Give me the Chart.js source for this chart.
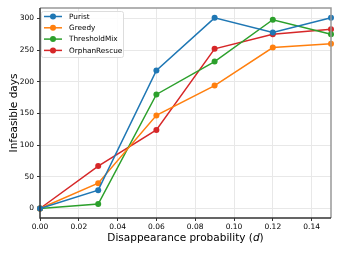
<!DOCTYPE html>
<html><head><meta charset="utf-8">
<script src="https://cdn.jsdelivr.net/npm/chart.js@4/dist/chart.umd.min.js"></script>
<style>html,body{margin:0;padding:0;background:#fff}#w{width:339px;height:254px}</style>
</head><body><div id="w"><canvas id="c" width="339" height="254"></canvas></div>
<script>
const xValues = [0.00, 0.03, 0.06, 0.09, 0.12, 0.15];
const purist = [0, 29, 218, 301, 278, 301];
const greedy = [0, 40, 147, 194, 254, 260];
const thresholdMix = [0, 7, 180, 232, 298, 275];
const orphanRescue = [0, 67, 124, 252, 275, 283];
const seriesNames = ['Purist', 'Greedy', 'ThresholdMix', 'OrphanRescue'];
const seriesColors = ['#1f77b4', '#ff7f0e', '#2ca02c', '#d62728'];
const xTicks = [0.00, 0.02, 0.04, 0.06, 0.08, 0.10, 0.12, 0.14];
const yTicks = [0, 50, 100, 150, 200, 250, 300];
const FONT = '"DejaVu Sans", sans-serif';

const allSeries = [purist, greedy, thresholdMix, orphanRescue];
const datasets = allSeries.map((s, i) => ({
  label: seriesNames[i],
  data: s.map((v, j) => ({x: xValues[j], y: v})),
  borderColor: seriesColors[i],
  backgroundColor: seriesColors[i],
  borderWidth: 1.5,
  pointRadius: 3,
  pointHoverRadius: 3,
  pointBorderWidth: 0,
  tension: 0,
  clip: false
}));

const extras = {
  id: 'extras',
  afterDraw(chart) {
    const ctx = chart.ctx;
    const a = chart.chartArea;
    ctx.save();
    // spines
    ctx.lineWidth = 1.5;
    ctx.strokeStyle = '#999';
    ctx.beginPath();
    ctx.moveTo(a.left, a.top); ctx.lineTo(a.right, a.top); ctx.lineTo(a.right, a.bottom);
    ctx.stroke();
    ctx.strokeStyle = '#333';
    ctx.beginPath();
    ctx.moveTo(a.left, a.top); ctx.lineTo(a.left, a.bottom); ctx.lineTo(a.right, a.bottom);
    ctx.stroke();
    // axis titles
    ctx.fillStyle = '#000';
    const FS = '10.5px ';
    ctx.textBaseline = 'middle';
    const t1 = 'Disappearance probability (';
    const t2 = 'd';
    const t3 = ')';
    ctx.font = FS + FONT;
    const w1 = ctx.measureText(t1).width, w3 = ctx.measureText(t3).width;
    ctx.font = 'italic ' + FS + FONT;
    const w2 = ctx.measureText(t2).width;
    let x0 = (a.left + a.right) / 2 - (w1 + w2 + w3) / 2;
    const ty = 238;
    ctx.textAlign = 'left';
    ctx.font = FS + FONT; ctx.fillText(t1, x0, ty);
    ctx.font = 'italic ' + FS + FONT; ctx.fillText(t2, x0 + w1, ty);
    ctx.font = FS + FONT; ctx.fillText(t3, x0 + w1 + w2, ty);
    ctx.save();
    ctx.translate(14, (a.top + a.bottom) / 2);
    ctx.rotate(-Math.PI / 2);
    ctx.textAlign = 'center';
    ctx.font = FS + FONT;
    ctx.fillText('Infeasible days', 0, 0);
    ctx.restore();
    // legend
    const lx = 41.5, ly = 11.5, lw = 82, lh = 46;
    ctx.fillStyle = 'rgba(255,255,255,0.85)';
    ctx.strokeStyle = '#ddd';
    ctx.lineWidth = 1;
    ctx.beginPath();
    if (ctx.roundRect) ctx.roundRect(lx, ly, lw, lh, 2); else ctx.rect(lx, ly, lw, lh);
    ctx.fill(); ctx.stroke();
    chart.data.datasets.forEach((ds, i) => {
      const yy = 16.5 + i * 11.3;
      ctx.strokeStyle = ds.borderColor;
      ctx.lineWidth = 1.5;
      ctx.beginPath(); ctx.moveTo(44, yy); ctx.lineTo(62, yy); ctx.stroke();
      ctx.fillStyle = ds.borderColor;
      ctx.beginPath(); ctx.arc(53, yy, 3, 0, Math.PI * 2); ctx.fill();
      ctx.fillStyle = '#000';
      ctx.font = '7.3px ' + FONT;
      ctx.textAlign = 'left';
      ctx.textBaseline = 'middle';
      ctx.fillText(ds.label, 69, yy + 0.5);
    });
    ctx.restore();
  }
};

new Chart(document.getElementById('c'), {
  type: 'line',
  data: { datasets },
  options: {
    responsive: false,
    animation: false,
    devicePixelRatio: 1,
    layout: { padding: { left: 0, right: 8, top: 8, bottom: 0 } },
    plugins: { legend: { display: false }, tooltip: { enabled: false } },
    scales: {
      x: {
        type: 'linear', min: 0, max: 0.15,
        afterBuildTicks: s => { s.ticks = xTicks.map(v => ({value: v})); },
        afterFit: s => { s.height = 36; },
        border: { display: false },
        grid: { color: '#e8e8e8', lineWidth: 1, tickLength: 3, tickColor: '#333' },
        ticks: { color: '#000', font: { family: FONT, size: 7.5 }, padding: 2, maxRotation: 0,
          callback: v => Number(v).toFixed(2) }
      },
      y: {
        min: -15, max: 316.5,
        afterBuildTicks: s => { s.ticks = yTicks.map(v => ({value: v})); },
        afterFit: s => { s.width = 40; },
        border: { display: false },
        grid: { color: '#e8e8e8', lineWidth: 1, tickLength: 3, tickColor: '#333' },
        ticks: { color: '#000', font: { family: FONT, size: 7.5 }, padding: 3,
          callback: v => String(v) }
      }
    }
  },
  plugins: [extras]
});
</script></body></html>
